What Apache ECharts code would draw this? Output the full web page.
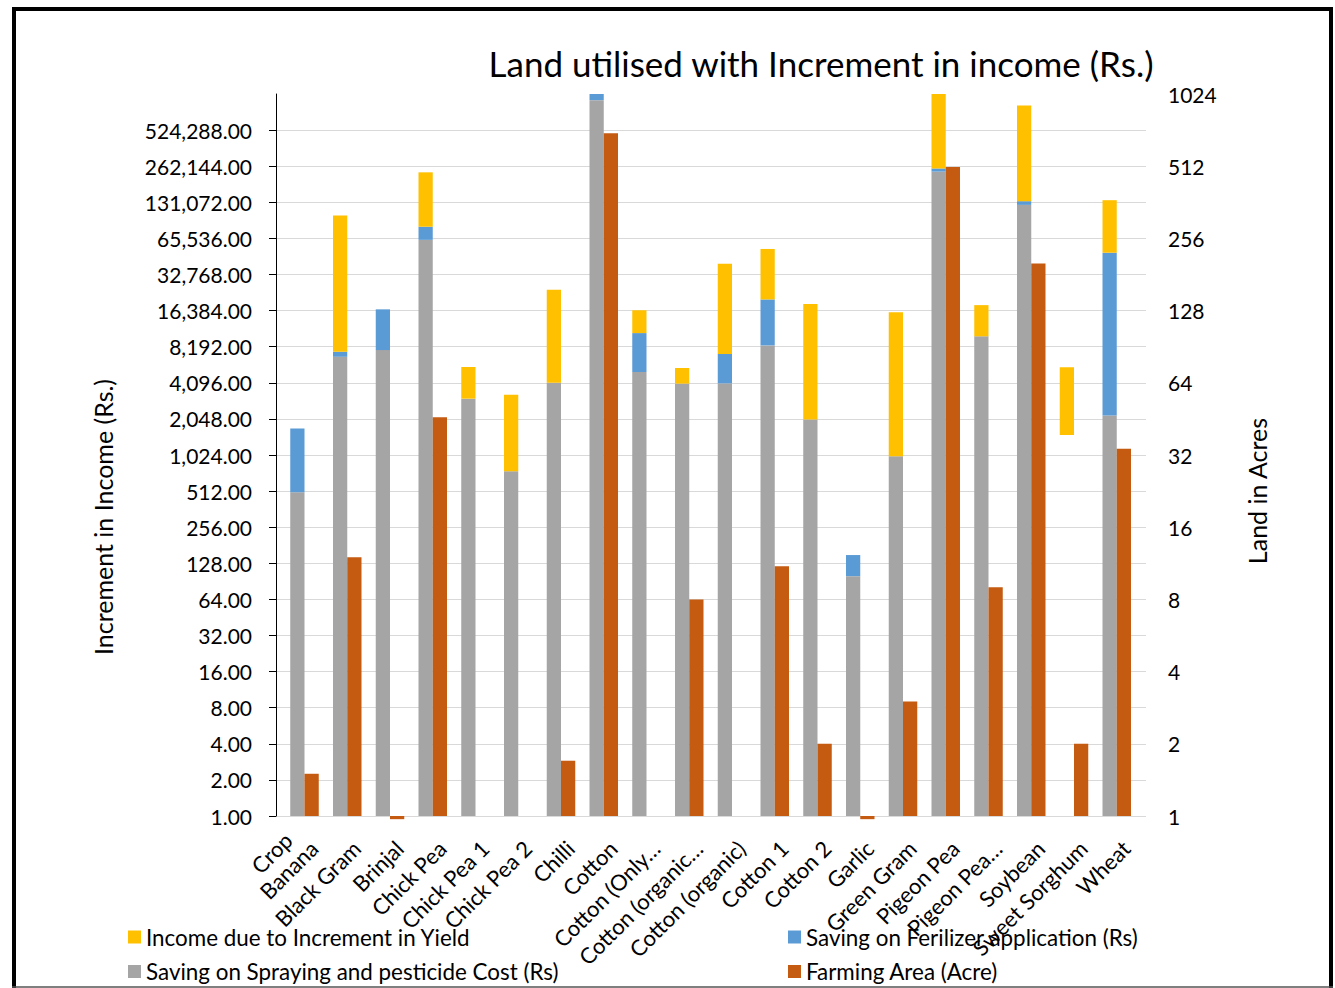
<!DOCTYPE html>
<html><head><meta charset="utf-8">
<script src="https://cdn.jsdelivr.net/npm/echarts@6/dist/echarts.min.js"></script>
<style>html,body{margin:0;padding:0;background:#fff}#chart{width:1335px;height:988px}</style>
</head><body><div id="chart"></div>
<script>
// ---- data ----
const categoryHeader = 'Crop';
const categories = ['Banana','Black Gram','Brinjal','Chick Pea','Chick Pea 1','Chick Pea 2','Chilli','Cotton','Cotton (Only…','Cotton (organic…','Cotton (organic)','Cotton 1','Cotton 2','Garlic','Green Gram','Pigeon Pea','Pigeon Pea…','Soybean','Sweet Sorghum','Wheat'];
const sprayingSaving   = [500, 6750, 7680, 63700, 3020, 750, 4100, 932000, 5040, 4030, 4050, 8400, 2020, 100, 1000, 236000, 10000, 124700, 1500, 2190];
const fertilizerSaving = [1200, 690, 9100, 18300, 0, 0, 0, 150000, 5600, 0, 3080, 11900, 0, 50, 0, 15000, 0, 9300, 0, 47600];
const yieldIncome      = [0, 94500, 0, 151000, 2530, 2510, 20400, 0, 5850, 1410, 33170, 33200, 16580, 0, 14900, 850000, 8200, 705000, 4020, 86700];
const farmingArea      = [1.5, 12, 0.97, 46, null, null, 1.7, 702, null, 8, null, 11, 2, 0.97, 3, 508, 9, 201, 2, 34];
const leftTickLabels  = ['1.00','2.00','4.00','8.00','16.00','32.00','64.00','128.00','256.00','512.00','1,024.00','2,048.00','4,096.00','8,192.00','16,384.00','32,768.00','65,536.00','131,072.00','262,144.00','524,288.00'];
const rightTickLabels = ['1','2','4','8','16','32','64','128','256','512','1024'];
const titleText = 'Land utilised with Increment in income (Rs.)';
const leftAxisName = 'Increment in Income (Rs.)';
const rightAxisName = 'Land in Acres';
const seriesNames = {
  yield: 'Income due to Increment in Yield',
  fert: 'Saving on Ferilizer application (Rs)',
  spray: 'Saving on Spraying and pesticide Cost (Rs)',
  area: 'Farming Area (Acre)'
};

// ---- chart ----
const floatingCategory = 'Sweet Sorghum'; // base segment not drawn in the original
const FONT = 'Lato';
const TOP = 94, HEIGHT = 722, LEFT = 276;
const chart = echarts.init(document.getElementById('chart'), null, {renderer: 'svg'});
const barCommon = {type: 'bar', xAxisIndex: 1, barGap: '0%', barCategoryGap: '0%'};
const labelFont = {fontSize: 22, lineHeight: 24, color: '#000', fontFamily: FONT};
const option = {
  animation: false,
  textStyle: {fontFamily: FONT},
  grid: [
    {left: LEFT, top: TOP, width: 870, height: HEIGHT},
    {left: LEFT, top: TOP, width: 855, height: HEIGHT},
    {left: LEFT + 25, top: TOP, width: 855, height: HEIGHT}
  ],
  xAxis: [
    {gridIndex: 0, type: 'category', data: categories, show: false},
    {gridIndex: 1, type: 'category', data: categories, axisLine: {show: false}, axisTick: {show: false}, axisLabel: {show: false}},
    {gridIndex: 2, type: 'category', data: categories, axisLine: {show: false}, axisTick: {show: false},
     axisLabel: Object.assign({interval: 0, rotate: 45, margin: 37, align: 'right', verticalAlign: 'bottom',
       formatter: (v, i) => i === 0 ? '{h|' + categoryHeader + '}\n{n|' + v + '}' : '{n|' + v + '}',
       rich: {h: Object.assign({align: 'center'}, labelFont), n: Object.assign({}, labelFont)}}, labelFont)}
  ],
  yAxis: [
    {gridIndex: 0, type: 'value', min: 0, max: 20, interval: 1, position: 'left',
     axisLine: {show: true, lineStyle: {color: '#000', width: 1}},
     axisTick: {show: true, inside: false, length: 7, lineStyle: {color: '#000'}},
     axisLabel: {formatter: v => leftTickLabels[v] ?? '', margin: 24, fontSize: 21, color: '#000', fontFamily: FONT, showMaxLabel: false},
     splitLine: {show: true, showMaxLine: false, lineStyle: {color: '#d9d9d9', width: 1}}},
    {gridIndex: 0, type: 'value', min: 0, max: 10, interval: 1, position: 'right',
     axisLine: {show: false}, axisTick: {show: false},
     axisLabel: {formatter: v => rightTickLabels[v] ?? '', margin: 22, fontSize: 21, color: '#000', fontFamily: FONT},
     splitLine: {show: false}},
    {gridIndex: 1, type: 'log', logBase: 2, min: 1, max: Math.pow(2, 20), show: false, splitLine: {show: false}},
    {gridIndex: 1, type: 'log', logBase: 2, min: 1, max: 1024, show: false, position: 'right', splitLine: {show: false}},
    {gridIndex: 2, type: 'value', show: false, splitLine: {show: false}}
  ],
  legend: [
    {left: 128, top: 925, padding: 0, orient: 'vertical', itemWidth: 13, itemHeight: 13, itemGap: 10.5, icon: 'rect',
     textStyle: {fontSize: 22.4, color: '#000', lineHeight: 24, fontFamily: FONT},
     data: [seriesNames.yield, seriesNames.spray]},
    {left: 788, top: 925, padding: 0, orient: 'vertical', itemWidth: 13, itemHeight: 13, itemGap: 10.5, icon: 'rect',
     textStyle: {fontSize: 22.4, color: '#000', lineHeight: 24, fontFamily: FONT},
     data: [seriesNames.fert, seriesNames.area]}
  ],
  series: [
    Object.assign({}, barCommon, {name: 'pad', yAxisIndex: 2, stack: 'pad', data: categories.map(() => null), silent: true}),
    Object.assign({}, barCommon, {name: seriesNames.spray, yAxisIndex: 2, stack: 'income', itemStyle: {color: '#A5A5A5'},
      data: sprayingSaving.map((v, i) => categories[i] === floatingCategory ? {value: v, itemStyle: {color: 'rgba(0,0,0,0)'}} : v)}),
    Object.assign({}, barCommon, {name: seriesNames.fert, yAxisIndex: 2, stack: 'income', itemStyle: {color: '#5B9BD5'}, data: fertilizerSaving}),
    Object.assign({}, barCommon, {name: seriesNames.yield, yAxisIndex: 2, stack: 'income', itemStyle: {color: '#FFC000'}, data: yieldIncome}),
    Object.assign({}, barCommon, {name: seriesNames.area, yAxisIndex: 3, itemStyle: {color: '#C55A11'}, data: farmingArea, clip: false})
  ],
  graphic: [
    {type: 'rect', shape: {x: 14, y: 9, width: 1317, height: 1010}, style: {fill: 'none', stroke: '#000', lineWidth: 4}, silent: true, z: 100},
    {type: 'line', shape: {x1: 12, y1: 987, x2: 1333, y2: 987}, style: {stroke: '#555', lineWidth: 1.5}, silent: true, z: 100},
    {type: 'text', x: 821, y: 63, style: {text: titleText, font: '35px ' + FONT, fill: '#000', align: 'center', verticalAlign: 'middle', textAlign: 'center', textVerticalAlign: 'middle'}},
    {type: 'text', x: 103, y: 517, rotation: Math.PI / 2, style: {text: leftAxisName, font: '25px ' + FONT, fill: '#000', align: 'center', verticalAlign: 'middle', textAlign: 'center', textVerticalAlign: 'middle'}},
    {type: 'text', x: 1257, y: 491, rotation: Math.PI / 2, style: {text: rightAxisName, font: '25px ' + FONT, fill: '#000', align: 'center', verticalAlign: 'middle', textAlign: 'center', textVerticalAlign: 'middle'}}
  ]
};
chart.setOption(option);
</script></body></html>
